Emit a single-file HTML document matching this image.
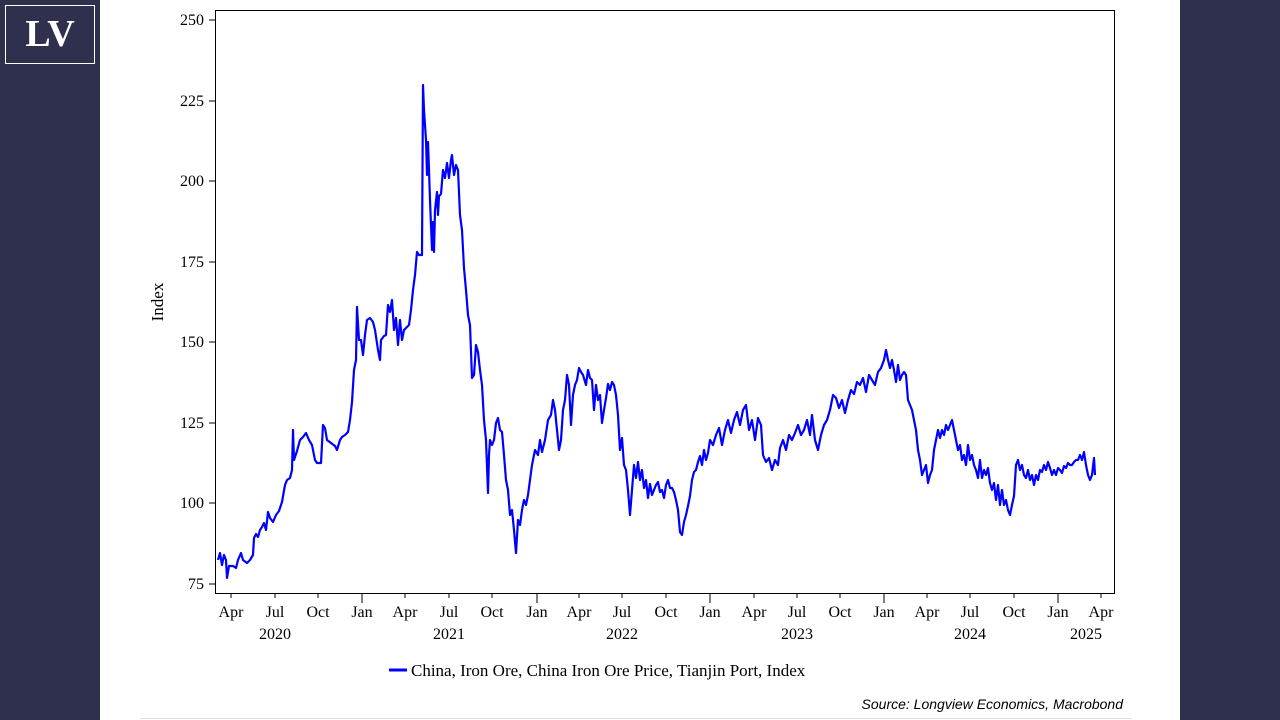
<!DOCTYPE html>
<html><head><meta charset="utf-8"><style>
body{margin:0;width:1280px;height:720px;background:#fff;overflow:hidden;position:relative;font-family:"Liberation Serif",serif}
.side{position:absolute;top:0;height:720px;background:#2f304d}
</style></head><body>
<div class="side" style="left:0;width:100px"></div>
<div class="side" style="left:1180px;width:100px"></div>
<div style="position:absolute;left:5px;top:5px;width:88px;height:57px;border:1px solid #fff;color:#fff;font:bold 38px 'Liberation Serif',serif;text-align:center;line-height:57px">LV</div>
<svg width="1280" height="720" style="position:absolute;left:0;top:0" font-family="Liberation Serif, serif" font-size="16">
<rect x="215.5" y="10.5" width="899" height="583" fill="none" stroke="#000" stroke-width="1"/>
<g stroke="#000">
<line x1="209" x2="215" y1="20" y2="20"/><line x1="209" x2="215" y1="101" y2="101"/><line x1="209" x2="215" y1="181" y2="181"/><line x1="209" x2="215" y1="262" y2="262"/><line x1="209" x2="215" y1="342" y2="342"/><line x1="209" x2="215" y1="423" y2="423"/><line x1="209" x2="215" y1="503" y2="503"/><line x1="209" x2="215" y1="584" y2="584"/>
</g>
<g text-anchor="end">
<text x="204" y="25">250</text><text x="204" y="106">225</text><text x="204" y="186">200</text><text x="204" y="267">175</text><text x="204" y="347">150</text><text x="204" y="428">125</text><text x="204" y="508">100</text><text x="204" y="589">75</text>
</g>
<text transform="translate(163,302) rotate(-90)" text-anchor="middle" font-size="17">Index</text>
<g stroke="#000">
<line x1="231" x2="231" y1="593" y2="598"/><line x1="275" x2="275" y1="593" y2="598"/><line x1="318" x2="318" y1="593" y2="598"/><line x1="362" x2="362" y1="593" y2="603"/><line x1="405" x2="405" y1="593" y2="598"/><line x1="449" x2="449" y1="593" y2="598"/><line x1="492" x2="492" y1="593" y2="598"/><line x1="537" x2="537" y1="593" y2="603"/><line x1="579" x2="579" y1="593" y2="598"/><line x1="622" x2="622" y1="593" y2="598"/><line x1="666" x2="666" y1="593" y2="598"/><line x1="710" x2="710" y1="593" y2="603"/><line x1="754" x2="754" y1="593" y2="598"/><line x1="797" x2="797" y1="593" y2="598"/><line x1="840" x2="840" y1="593" y2="598"/><line x1="884" x2="884" y1="593" y2="603"/><line x1="927" x2="927" y1="593" y2="598"/><line x1="970" x2="970" y1="593" y2="598"/><line x1="1014" x2="1014" y1="593" y2="598"/><line x1="1058" x2="1058" y1="593" y2="603"/><line x1="1101" x2="1101" y1="593" y2="598"/>
</g>
<g text-anchor="middle">
<text x="231" y="617">Apr</text><text x="275" y="617">Jul</text><text x="318" y="617">Oct</text><text x="362" y="617">Jan</text><text x="405" y="617">Apr</text><text x="449" y="617">Jul</text><text x="492" y="617">Oct</text><text x="537" y="617">Jan</text><text x="579" y="617">Apr</text><text x="622" y="617">Jul</text><text x="666" y="617">Oct</text><text x="710" y="617">Jan</text><text x="754" y="617">Apr</text><text x="797" y="617">Jul</text><text x="840" y="617">Oct</text><text x="884" y="617">Jan</text><text x="927" y="617">Apr</text><text x="970" y="617">Jul</text><text x="1014" y="617">Oct</text><text x="1058" y="617">Jan</text><text x="1101" y="617">Apr</text>
<g><text x="275" y="639">2020</text><text x="449" y="639">2021</text><text x="622" y="639">2022</text><text x="797" y="639">2023</text><text x="970" y="639">2024</text><text x="1086" y="639">2025</text></g>
</g>
<polyline fill="none" stroke="#0000ff" stroke-width="2.2" stroke-linejoin="round" points="218,560 220,553 222,565 224,555 226,560 227,578 229,566 233,566 236,568 238,560 241,553 243,560 247,563 250,560 253,555 254,538 256,534 258,537 260,530 262,527 264,523 266,530 268,512 270,518 273,522 276,515 279,511 282,502 285,485 287,480 290,478 292,470 293,430 294,460 297,451 300,440 303,437 306,433 309,440 312,445 315,460 317,463 321,463 323,425 325,428 327,440 331,443 335,446 337,450 340,440 342,437 345,435 348,432 350,420 352,402 354,370 356,360 357,307 359,340 361,340 363,355 365,335 367,320 370,318 373,322 375,330 378,350 380,360 381,340 384,336 386,335 388,305 390,312 392,300 394,330 396,318 398,345 400,320 402,340 404,330 406,328 409,325 411,310 413,290 415,275 417,252 419,255 422,255 423,85 424,110 426,140 427,175 428,142 429,170 430,200 432,250 433,222 434,252 435,210 437,192 438,215 439,196 441,194 443,170 445,178 447,163 449,178 451,160 452,155 454,175 456,165 458,170 460,215 462,230 464,268 466,290 468,315 470,325 472,378 474,375 476,345 478,352 480,370 482,385 484,420 486,440 488,493 489,455 490,440 492,445 494,440 496,423 498,418 500,430 502,432 504,455 506,480 508,490 510,515 512,510 514,530 516,553 518,520 520,525 522,510 524,500 526,505 528,495 530,480 532,465 535,450 538,455 540,440 542,452 545,440 548,420 551,415 553,400 555,410 557,430 559,450 561,440 563,410 565,400 567,375 569,385 571,425 573,395 575,385 577,380 579,368 581,372 583,375 586,385 588,370 590,378 592,380 594,410 596,385 598,400 600,395 602,423 604,410 606,398 608,384 610,390 612,382 614,385 616,395 618,415 620,450 622,438 624,465 626,470 628,490 630,515 632,490 634,465 636,478 638,462 640,480 642,470 644,488 646,480 648,498 650,484 652,495 654,490 656,485 658,482 660,492 662,490 664,498 666,485 668,480 670,488 672,488 674,492 676,500 678,510 680,532 682,535 684,522 686,515 688,506 690,496 692,480 694,472 696,470 698,462 700,456 702,465 704,450 706,460 708,453 710,440 713,445 716,435 719,428 722,445 725,430 728,420 731,433 734,420 737,412 740,425 743,410 746,405 749,430 752,420 755,440 758,418 761,425 763,455 766,462 769,458 772,470 775,460 778,465 780,448 783,440 786,450 789,435 792,440 795,433 798,425 801,435 804,430 807,420 810,435 812,415 815,440 818,450 821,435 824,425 827,420 830,410 833,395 836,398 839,408 842,400 845,413 848,400 851,390 854,394 857,382 860,385 863,378 866,392 869,375 872,380 875,385 878,372 881,368 884,360 886,350 888,360 890,368 892,360 894,370 896,382 898,365 900,380 902,375 904,372 906,375 908,400 910,405 912,410 914,420 916,430 918,450 920,460 922,475 924,470 926,465 928,483 930,475 932,470 934,450 936,440 938,430 940,438 942,430 944,435 946,425 948,430 950,425 952,420 954,430 956,440 958,450 960,445 962,460 964,455 966,465 968,445 970,460 972,455 974,465 976,470 978,478 980,460 982,478 984,470 986,475 988,468 990,483 992,490 994,483 996,500 998,485 1000,505 1002,490 1004,505 1006,500 1008,510 1010,515 1012,505 1014,496 1016,465 1018,460 1020,470 1022,465 1024,475 1026,478 1028,470 1030,480 1032,475 1034,485 1036,475 1038,480 1040,470 1042,472 1044,465 1046,470 1048,462 1050,468 1052,475 1054,470 1056,475 1058,468 1060,470 1062,473 1064,466 1066,468 1068,463 1070,465 1072,465 1074,462 1076,460 1078,460 1080,455 1082,460 1084,452 1086,465 1088,475 1090,480 1092,475 1094,458 1095,475"/>
<line x1="389" x2="407" y1="670" y2="670" stroke="#0000ff" stroke-width="3"/>
<text x="411" y="676" font-size="17">China, Iron Ore, China Iron Ore Price, Tianjin Port, Index</text>
<text x="1123" y="709" text-anchor="end" font-family="Liberation Sans, sans-serif" font-style="italic" font-size="14">Source: Longview Economics, Macrobond</text>
<line x1="140" x2="1132" y1="718.5" y2="718.5" stroke="#ddd"/>
</svg>
</body></html>
